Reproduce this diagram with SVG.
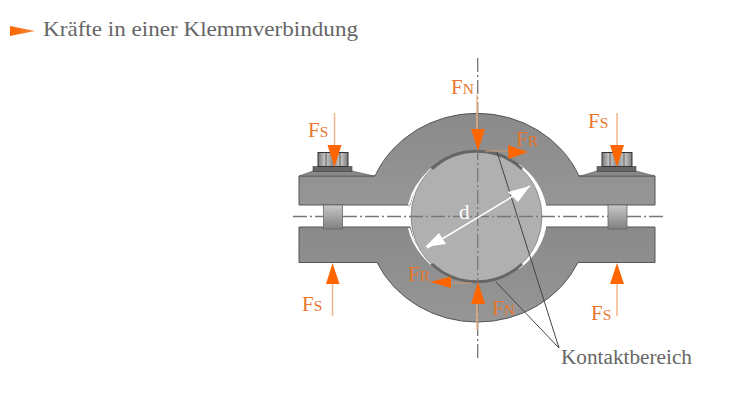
<svg xmlns="http://www.w3.org/2000/svg" width="750" height="406" viewBox="0 0 750 406">
<style>
text{font-family:"Liberation Serif","DejaVu Serif",serif}
.t{fill:#666;font-size:22px}
.f{fill:#e8752a;font-size:21px}
.f tspan{font-size:15.500px}
.body{fill:url(#bg);stroke:#555;stroke-width:1}
.nut{fill:url(#ng);stroke:#333;stroke-width:1}
.pin{fill:url(#pg);stroke:#666;stroke-width:.8}
.dark{fill:#666;stroke:#444;stroke-width:.6}
.head{fill:#f60}
.shaft{stroke:#f4b183;stroke-width:1.4;fill:none}
.faint{stroke:#c89a78;stroke-width:1;fill:none}
.cl{stroke:#777;stroke-width:1.3;stroke-dasharray:14 3 2 3;fill:none}
.lead{stroke:#444;stroke-width:1;fill:none}
.arc{stroke:#666;stroke-width:3;fill:none}
</style>
<defs>
<linearGradient id="bg" x1="0" y1="0" x2="0" y2="1"><stop offset="0" stop-color="#8a8a8a"/><stop offset="1" stop-color="#969696"/></linearGradient>
<linearGradient id="ng" x1="0" y1="0" x2="1" y2="0"><stop offset="0" stop-color="#777"/><stop offset=".25" stop-color="#ccc"/><stop offset=".5" stop-color="#8a8a8a"/><stop offset=".75" stop-color="#ccc"/><stop offset="1" stop-color="#777"/></linearGradient>
<linearGradient id="pg" x1="0" y1="0" x2="0" y2="1"><stop offset="0" stop-color="#c8c8c8"/><stop offset="1" stop-color="#808080"/></linearGradient>
<linearGradient id="tg" x1="0" y1="0" x2="1" y2="0"><stop offset="0" stop-color="#f60"/><stop offset="1" stop-color="#f28a3c"/></linearGradient>
</defs>
<rect width="750" height="406" fill="#fff"/>
<g id="title"><polygon points="10,26 10,36 35,31" fill="url(#tg)"/><text class="t" x="43" y="36" textLength="315" lengthAdjust="spacingAndGlyphs">Kräfte in einer Klemmverbindung</text></g>
<g id="clamp-upper"><path class="body" d="M299,176 L375,176 A111,103.500 0 0 1 579,176 L655,176 L655,205 L544,205 A68,66 0 0 0 410,205 L299,205 Z"/>
<path d="M299,176 L313,171 L352,171 L372,175.500 L375,176 Z M655,176 L636,171 L597,171 L582,175.500 L579,176 Z" fill="#888" stroke="#555" stroke-width=".6"/></g>
<g id="clamp-lower"><path class="body" d="M299,227 L410,227 A68,66 0 0 0 544,227 L655,227 L655,262.500 L578,262.500 A111,103.500 0 0 1 377,262.500 L299,262.500 Z"/></g>
<g id="shaft">
<path fill="#fff" d="M519,164 Q541,180 546,205 L546,228 Q541,253 519,269 L505,255 L505,178 Z"/>
<path fill="none" stroke="#fff" stroke-width="2" d="M431,169 Q413,186 409,205 M409,228 Q413,247 431,264"/>
<circle cx="476.500" cy="216.500" r="65.500" fill="#b0b0b0" stroke="#666" stroke-width=".6"/>
<path class="arc" d="M432,169 A66,66 0 0 1 522,169 M432,264 A66,66 0 0 0 522,264"/></g>
<g id="connectors">
<path class="cl" d="M293,216.500H323M343,216.500H608M627,216.500H665"/>
<path class="cl" d="M477.700,58V360"/>
<path class="lead" d="M497,152 L559,348 L496,282"/>
<path d="M427,248 L530,186" stroke="#fff" stroke-width="1.500" fill="none"/>
<polygon points="530,186 508,192 518,202" fill="#fff"/>
<polygon points="425,247 439,233 446,244" fill="#fff"/>
</g>
<g id="bolt-left"><rect class="pin" x="323.500" y="205" width="19" height="24"/><rect class="dark" x="313" y="166.500" width="39" height="5"/><rect class="nut" x="318" y="152.500" width="30" height="14"/><path d="M326,152.500V166.500M340,152.500V166.500" stroke="#333" stroke-width=".8"/></g>
<g id="bolt-right"><rect class="pin" x="608" y="205" width="19" height="24"/><rect class="dark" x="597" y="166.500" width="39" height="5"/><rect class="nut" x="602" y="152.500" width="30" height="14"/><path d="M610,152.500V166.500M624,152.500V166.500" stroke="#333" stroke-width=".8"/></g>
<g id="force-arrows">
<path class="shaft" d="M334.500,113V146M617,113V146M332.500,283V316M617,283V316M477,95V130M477,303V330"/>
<path class="faint" d="M485,151H510M450,283H472"/>
<polygon class="head" points="327.500,145 341.500,145 334.500,167"/>
<polygon class="head" points="610,145 624,145 617,167"/>
<polygon class="head" points="332.500,263 339.500,284 326,284"/>
<polygon class="head" points="617,263 624,284 610,284"/>
<polygon class="head" points="471,129 485,129 478,151"/>
<polygon class="head" points="478,282 485,304 471,304"/>
<polygon class="head" points="528,152 508,145 508.500,159"/>
<polygon class="head" points="430,282 451,276.500 451,288"/>
</g>
<g id="labels">
<text class="f" x="308" y="137">F<tspan>S</tspan></text>
<text class="f" x="451" y="94">F<tspan>N</tspan></text>
<text class="f" x="516" y="146">F<tspan>R</tspan></text>
<text class="f" x="588" y="128">F<tspan>S</tspan></text>
<text class="f" x="302" y="311">F<tspan>S</tspan></text>
<text class="f" x="408" y="281">F<tspan>R</tspan></text>
<text class="f" x="492" y="315">F<tspan>N</tspan></text>
<text class="f" x="591" y="320">F<tspan>S</tspan></text>
<text x="459" y="219" fill="#fff" font-size="21">d</text>
<text class="t" x="561" y="364" style="font-size:20px" textLength="131" lengthAdjust="spacingAndGlyphs">Kontaktbereich</text>
</g>
</svg>
